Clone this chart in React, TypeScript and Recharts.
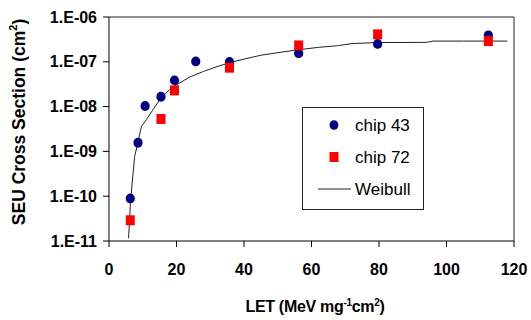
import React from 'react';
import {
  ComposedChart,
  Scatter,
  Line,
  XAxis,
  YAxis,
  ReferenceLine
} from 'recharts';

// LET values (MeV mg^-1 cm^2) and cross sections (cm^2)
const let43 = [6.3, 8.6, 10.7, 15.4, 19.4, 25.7, 35.7, 56.2, 79.6, 112.4];
const sigma43 = [8.9e-11, 1.56e-9, 1.03e-8, 1.66e-8, 3.85e-8, 1.02e-7, 9.9e-8, 1.54e-7, 2.5e-7, 3.9e-7];

const let72 = [6.3, 15.4, 19.4, 35.7, 56.2, 79.6, 112.4];
const sigma72 = [2.9e-11, 5.3e-9, 2.3e-8, 7.4e-8, 2.32e-7, 4.1e-7, 2.9e-7];

const letFit = [5.8, 6.4, 7.6, 8.4, 9.6, 11.1, 13, 15.5, 18, 21, 24, 28, 32, 36, 40, 45, 50, 56, 62, 68, 72, 80, 88, 94, 96, 105, 118];
const sigmaFit = [
  1.15e-11, 8.3e-11, 7.7e-10, 1.4e-9, 3.6e-9, 5.1e-9, 8.5e-9, 1.6e-8, 2.4e-8, 3.4e-8,
  4.6e-8, 6.1e-8, 7.8e-8, 9.7e-8, 1.15e-7, 1.4e-7, 1.6e-7, 1.85e-7, 2.1e-7, 2.3e-7,
  2.55e-7, 2.7e-7, 2.7e-7, 2.72e-7, 2.9e-7, 2.9e-7, 2.9e-7
];

const xTicks = [0, 20, 40, 60, 80, 100, 120];
const yTicks = [1e-11, 1e-10, 1e-9, 1e-8, 1e-7, 1e-6];

const zip = (xs: number[], ys: number[]) => xs.map((x, i) => ({ x, y: ys[i] }));
const chip43 = zip(let43, sigma43);
const chip72 = zip(let72, sigma72);
const weibull = zip(letFit, sigmaFit);

const FONT = '"Liberation Sans", Arial, sans-serif';
const NAVY = '#000080';
const RED = '#ff0000';

const fmtExp = (v: number) => {
  const e = Math.round(Math.log10(v));
  return `1.E-${String(-e).padStart(2, '0')}`;
};

const Dot = (props: any) => {
  const { cx, cy } = props;
  if (cx == null || cy == null) return <g />;
  return <ellipse cx={cx} cy={cy} rx={4.6} ry={4.9} fill={NAVY} />;
};

const Square = (props: any) => {
  const { cx, cy } = props;
  if (cx == null || cy == null) return <g />;
  return <rect x={cx - 4.5} y={cy - 5} width={9} height={10} fill={RED} />;
};

const tickStyle = { fontFamily: FONT, fontSize: 16, fontWeight: 700, fill: '#000' };

const ChartLegend = () => (
  <svg width={124} height={104} style={{ position: 'absolute', left: 302, top: 107 }}>
    <rect x={0.5} y={0.5} width={121} height={102} fill="#fff" stroke="#222" />
    <ellipse cx={32} cy={18} rx={4.4} ry={4.8} fill={NAVY} />
    <text x={53} y={24} fontFamily={FONT} fontSize={17} fill="#000">chip 43</text>
    <rect x={27.5} y={45} width={9} height={10} fill={RED} />
    <text x={53} y={56} fontFamily={FONT} fontSize={17} fill="#000">chip 72</text>
    <line x1={16} x2={49} y1={82} y2={82} stroke="#222" strokeWidth={1} />
    <text x={53} y={88} fontFamily={FONT} fontSize={17} fill="#000">Weibull</text>
  </svg>
);

export default function App() {
  return (
    <div style={{ position: 'absolute', left: 0, top: 0, width: 531, height: 320, background: '#fff' }}>
      <ComposedChart
        width={531}
        height={320}
        margin={{ top: 17, right: 17, bottom: 0, left: 0 }}
      >
        <XAxis
          type="number"
          dataKey="x"
          domain={[0, 120]}
          ticks={xTicks}
          height={79}
          tickSize={6}
          tickMargin={17}
          stroke="#000"
          tick={tickStyle}
          label={{
            content: () => (
              <text x={315} y={312} textAnchor="middle" fontFamily={FONT} fontSize={16} fontWeight={700} fill="#000" letterSpacing={-0.3}>
                LET (MeV mg
                <tspan dy={-6} fontSize={10}>-1</tspan>
                <tspan dy={6}>cm</tspan>
                <tspan dy={-6} fontSize={10}>2</tspan>
                <tspan dy={6}>)</tspan>
              </text>
            )
          }}
        />
        <YAxis
          type="number"
          dataKey="y"
          scale="log"
          domain={[1e-11, 1e-6]}
          allowDataOverflow
          ticks={yTicks}
          tickFormatter={fmtExp}
          width={109}
          tickSize={6}
          tickMargin={6}
          stroke="#000"
          tick={tickStyle}
          label={{
            content: () => (
              <text
                x={18.5}
                y={122}
                transform="rotate(-90 18.5 122)"
                textAnchor="middle"
                dominantBaseline="central"
                fontFamily={FONT}
                fontSize={17.5}
                fontWeight={700}
                fill="#000"
              >
                SEU Cross Section (cm
                <tspan dy={-6} fontSize={11}>2</tspan>
                <tspan dy={6}>)</tspan>
              </text>
            )
          }}
        />
        <ReferenceLine y={1e-6} stroke="#222" />
        <ReferenceLine x={120} stroke="#222" />
        <Scatter name="chip 43" data={chip43} dataKey="y" shape={<Dot />} isAnimationActive={false} />
        <Scatter name="chip 72" data={chip72} dataKey="y" shape={<Square />} isAnimationActive={false} />
        <Line
          name="Weibull"
          data={weibull}
          dataKey="y"
          type="linear"
          stroke="#222"
          strokeWidth={1}
          dot={false}
          activeDot={false}
          isAnimationActive={false}
        />
      </ComposedChart>
      <ChartLegend />
    </div>
  );
}
